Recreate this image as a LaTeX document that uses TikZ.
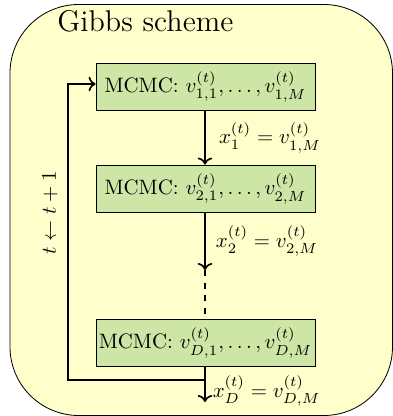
\documentclass[tikz,border=0pt]{standalone}
\usetikzlibrary{arrows.meta}
\definecolor{bgyellow}{RGB}{255,255,204}
\definecolor{boxgreen}{RGB}{205,229,165}
\begin{document}
\begin{tikzpicture}[x=0.48pt,y=-0.48pt,
  mcmcbox/.style={draw=black, fill=boxgreen, minimum width=105.1pt, minimum height=22.6pt, inner sep=0pt},
  flow/.style={thick, ->},
  lbl/.style={right}]
\useasboundingbox (0,0) rectangle (393,416);
\draw[fill=bgyellow, rounded corners=33pt] (10,4.5) rectangle (392.5,415.5);
\node[anchor=base west, font=\Large, inner sep=0pt] (title) at (57,32) {Gibbs scheme};
\node[mcmcbox] (b1) at (205.5,86.5) {MCMC: $v_{1,1}^{(t)},\ldots,v_{1,M}^{(t)}$};
\node[mcmcbox] (b2) at (205.5,188.5) {MCMC: $v_{2,1}^{(t)},\ldots,v_{2,M}^{(t)}$};
\node[mcmcbox] (b3) at (205.5,342.5) {MCMC: $v_{D,1}^{(t)},\ldots,v_{D,M}^{(t)}$};
\coordinate (c1) at (205,270);
\coordinate (c2) at (205,402);
\coordinate (fb) at (205,380);
\coordinate (fbl) at (68,380);
\coordinate (fbt) at (68,84);
\draw[flow] (b1.south -| c1) -- node[lbl, xshift=3pt] {$x_1^{(t)}=v_{1,M}^{(t)}$} (b2.north -| c1);
\draw[flow] (b2.south -| c1) -- node[lbl, xshift=1.5pt] {$x_2^{(t)}=v_{2,M}^{(t)}$} (c1);
\draw[thick, dashed] (c1) -- (b3.north -| c1);
\draw[flow] (b3.south -| c1) -- node[lbl, pos=0.7] {$x_D^{(t)}=v_{D,M}^{(t)}$} (c2);
\draw[flow] (fb) -- (fbl) -- (fbt) -- (fbt -| b1.west);
\node[rotate=90] (upd) at (50,213) {$t\leftarrow t+1$};
\end{tikzpicture}
\end{document}
